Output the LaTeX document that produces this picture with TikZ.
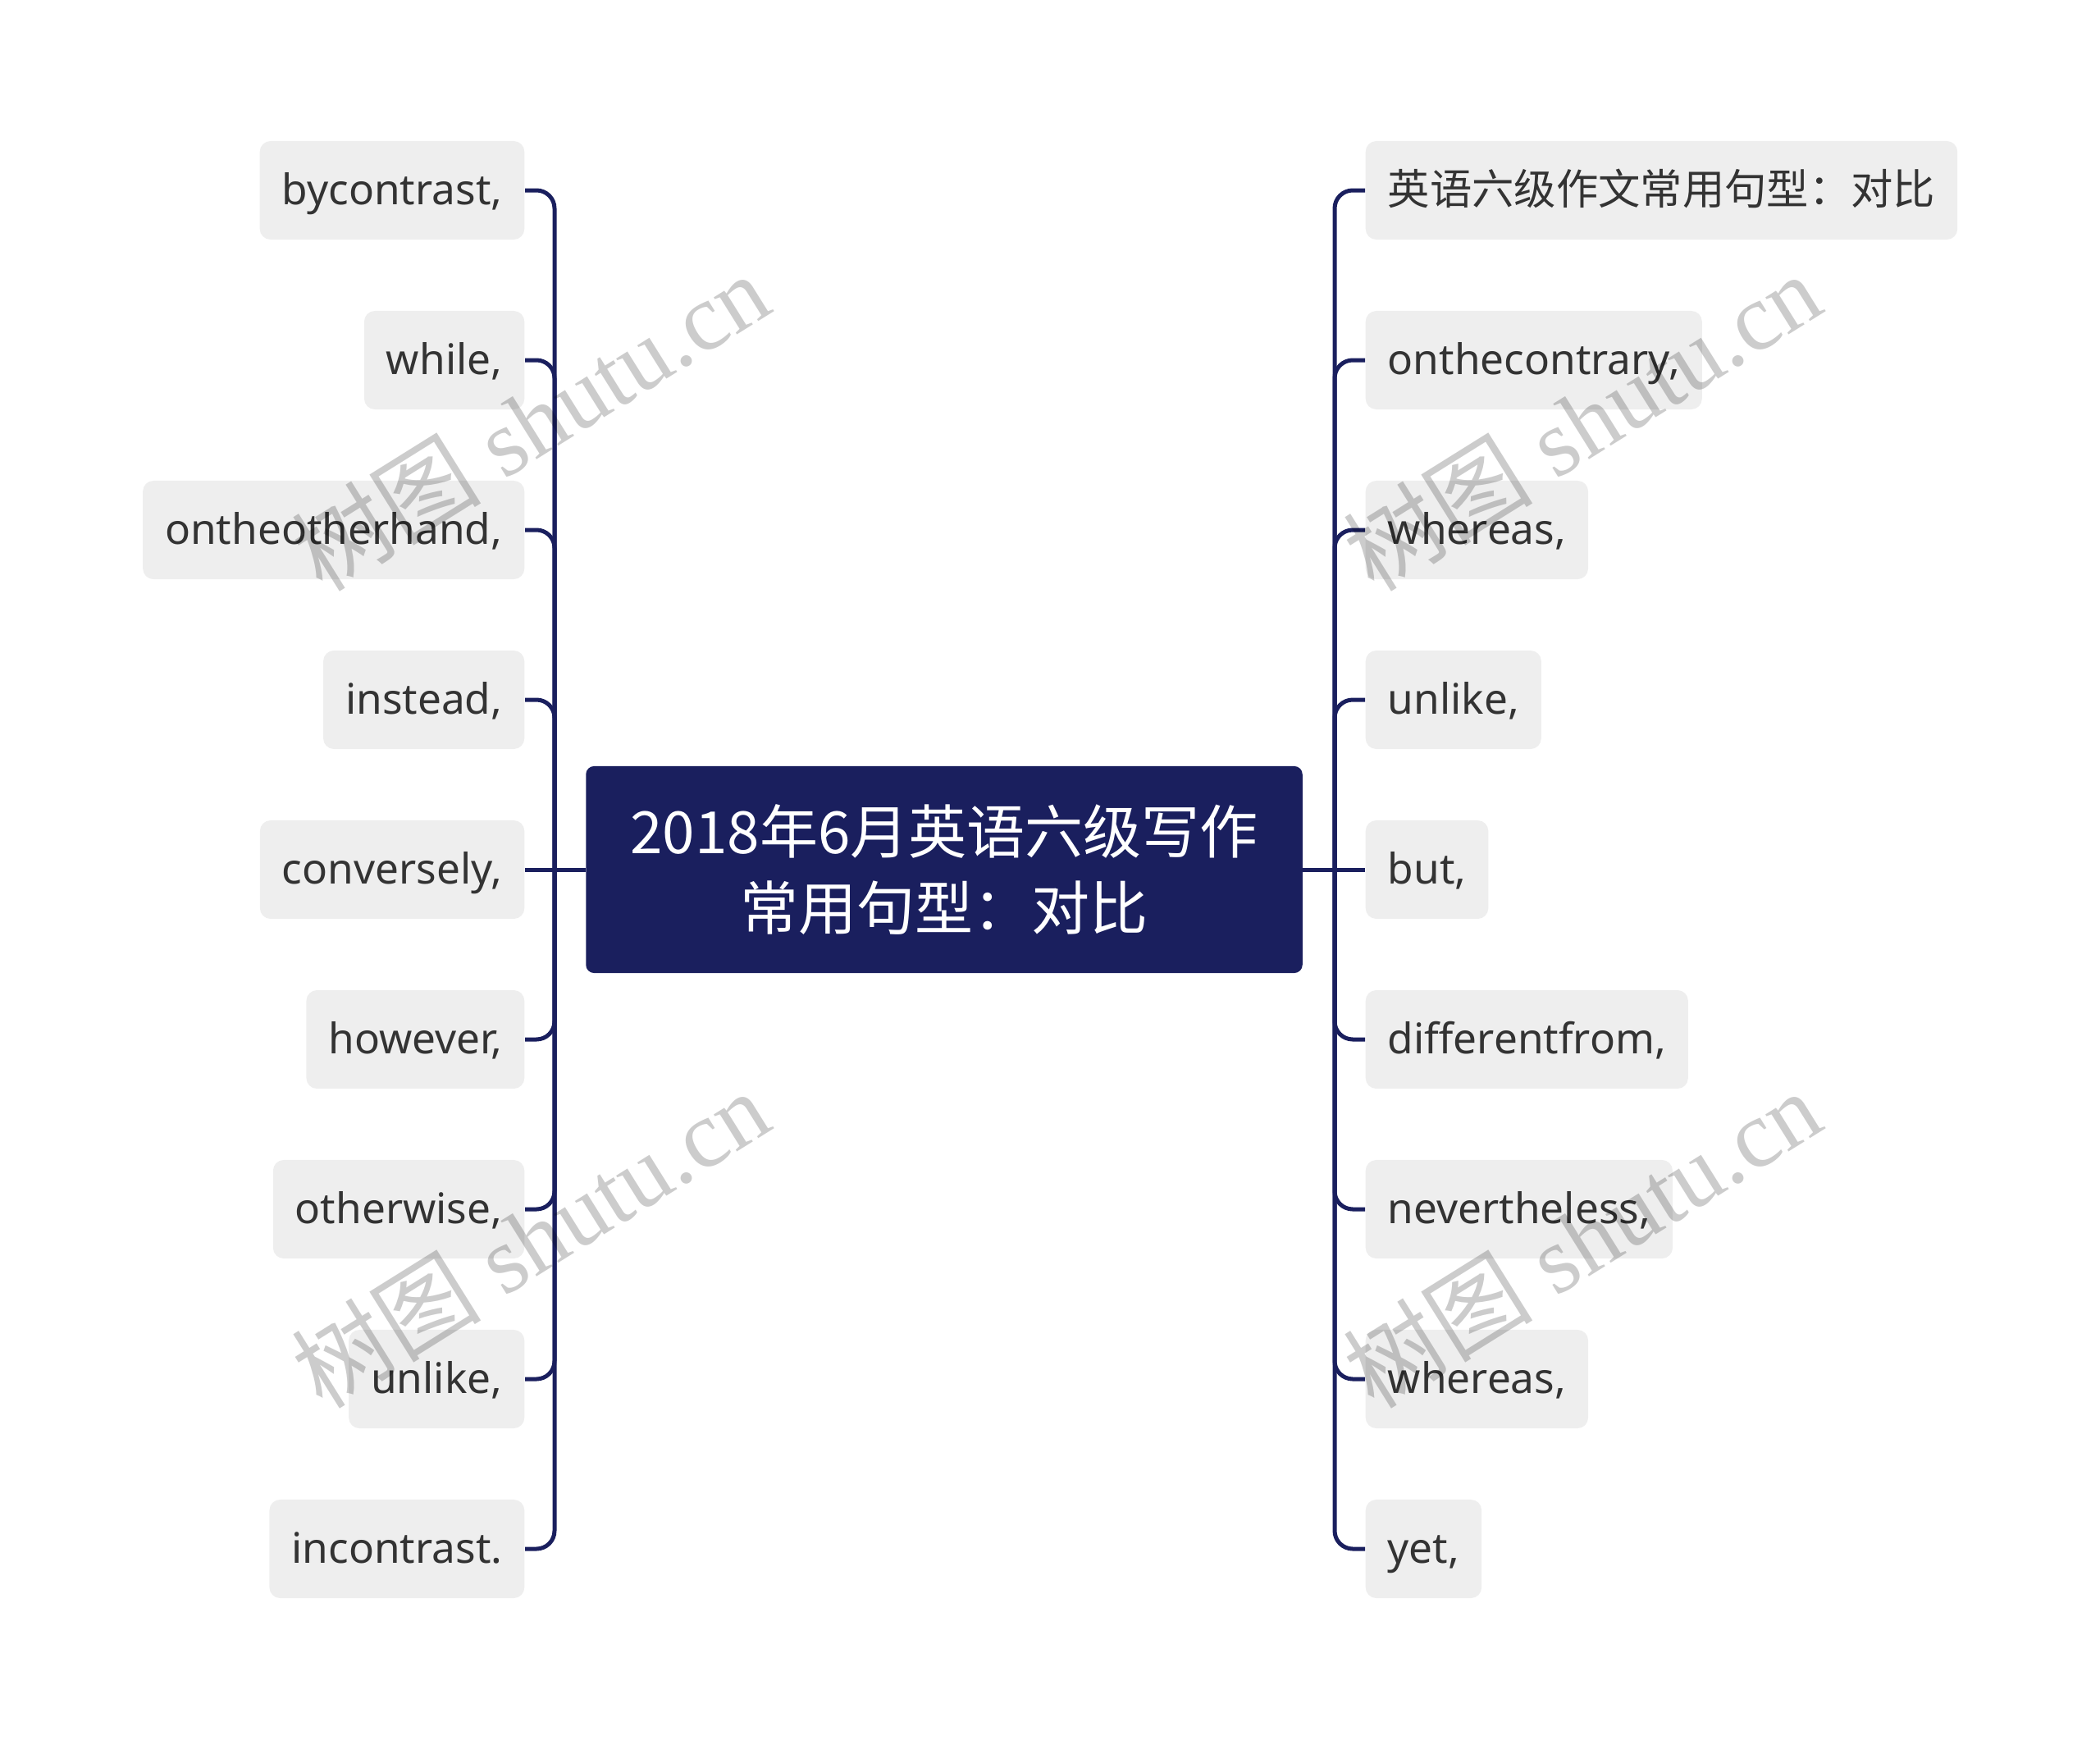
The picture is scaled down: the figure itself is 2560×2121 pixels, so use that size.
\documentclass[tikz,border=0pt]{standalone}
\usepackage{fontspec}
\setmainfont{Noto Sans}
\newfontfamily\cjk{Noto Sans CJK SC}
\newfontfamily\wmfont{Liberation Serif}
\definecolor{navy}{HTML}{1A1F5E}
\definecolor{leafgray}{HTML}{EEEEEE}
\definecolor{inkgray}{HTML}{333333}

\begin{document}
\begin{tikzpicture}[x=0.01cm,y=-0.01cm]
\tikzstyle{every node}=[inner sep=0pt]
\tikzstyle{leaf}=[fill=leafgray, rounded corners=0.13cm, text=inkgray, minimum height=1.2cm, inner xsep=0.27cm, text height=0.47cm, text depth=0.13cm, font=\fontsize{14.6pt}{18pt}\selectfont]
\tikzstyle{leafl}=[leaf, anchor=east]
\tikzstyle{leafr}=[leaf, anchor=west]
\tikzstyle{link}=[draw=navy, line width=0.05cm, rounded corners=0.22cm]
\tikzstyle{wmark}=[text=black, opacity=0.2, rotate=32, font=\wmfont\fontsize{33pt}{33pt}\selectfont]
\useasboundingbox (0,0) rectangle (2560,2121);
\draw (1151,1060) node (root) [fill=navy, rounded corners=0.1cm, minimum width=8.73cm, minimum height=2.52cm, text=white, align=center, font=\cjk\fontsize{20.2pt}{26.5pt}\selectfont] {2018年6月英语六级写作\\常用句型：对比};
\coordinate (jl) at (676,1060);
\coordinate (jr) at (1627,1060);
% left side
\draw (640,232) node (l1) [leafl] {bycontrast,};
\draw (640,439) node (l2) [leafl] {while,};
\draw (640,646) node (l3) [leafl] {ontheotherhand,};
\draw (640,853) node (l4) [leafl] {instead,};
\draw (640,1060) node (l5) [leafl] {conversely,};
\draw (640,1267) node (l6) [leafl] {however,};
\draw (640,1474) node (l7) [leafl] {otherwise,};
\draw (640,1681) node (l8) [leafl] {unlike,};
\draw (640,1888) node (l9) [leafl] {incontrast.};
% right side
\draw (1664,232) node (r1) [leafr] {\cjk 英语六级作文常用句型：对比};
\draw (1664,439) node (r2) [leafr] {onthecontrary,};
\draw (1664,646) node (r3) [leafr] {whereas,};
\draw (1664,853) node (r4) [leafr] {unlike,};
\draw (1664,1060) node (r5) [leafr] {but,};
\draw (1664,1267) node (r6) [leafr] {differentfrom,};
\draw (1664,1474) node (r7) [leafr] {nevertheless,};
\draw (1664,1681) node (r8) [leafr] {whereas,};
\draw (1664,1888) node (r9) [leafr] {yet,};
\draw[link] (root.west) -- (l5.east);
\draw[link] (root.east) -- (r5.west);
\draw[link] (jl) |- (l1.east);
\draw[link] (jl) |- (l2.east);
\draw[link] (jl) |- (l3.east);
\draw[link] (jl) |- (l4.east);
\draw[link] (jl) |- (l6.east);
\draw[link] (jl) |- (l7.east);
\draw[link] (jl) |- (l8.east);
\draw[link] (jl) |- (l9.east);
\draw[link] (jr) |- (r1.west);
\draw[link] (jr) |- (r2.west);
\draw[link] (jr) |- (r3.west);
\draw[link] (jr) |- (r4.west);
\draw[link] (jr) |- (r6.west);
\draw[link] (jr) |- (r7.west);
\draw[link] (jr) |- (r8.west);
\draw[link] (jr) |- (r9.west);
% watermark
\draw (646,514) node (wm1) [wmark] {{\cjk 树图} shutu.cn};
\draw (646,1510) node (wm2) [wmark] {{\cjk 树图} shutu.cn};
\draw (1928,514) node (wm3) [wmark] {{\cjk 树图} shutu.cn};
\draw (1928,1510) node (wm4) [wmark] {{\cjk 树图} shutu.cn};
\end{tikzpicture}
\end{document}
